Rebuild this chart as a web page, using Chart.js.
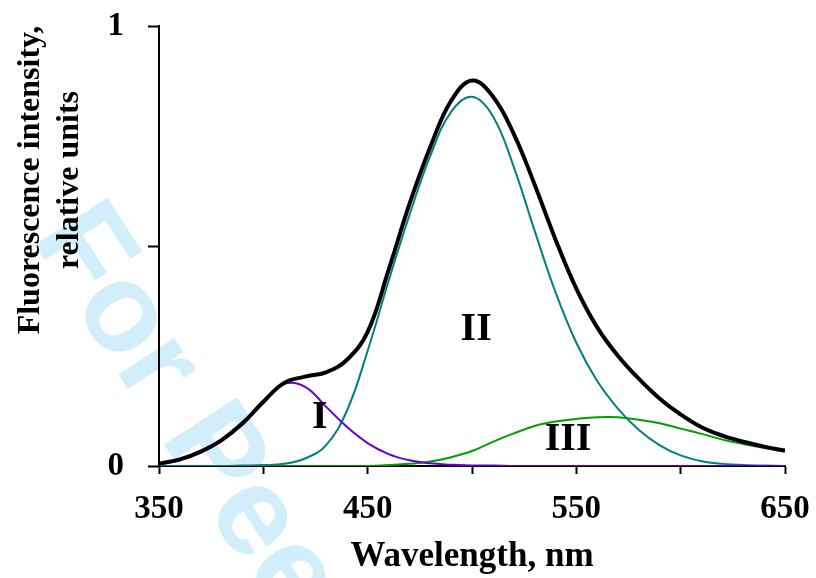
<!DOCTYPE html>
<html>
<head>
<meta charset="utf-8">
<script src="https://cdn.jsdelivr.net/npm/chart.js@4.4.0/dist/chart.umd.min.js"></script>
<style>
  html, body { margin: 0; padding: 0; background: #fff; }
  #wrap { width: 816px; height: 578px; }
</style>
</head>
<body>
<div id="wrap"><canvas id="spectrum" width="816" height="578"></canvas></div>
<script>
// fluorescence spectrum and its three gaussian bands

const wavelengths = [350, 360, 370, 380, 390, 400, 410, 420, 430, 440, 450,
    460, 470, 480, 490, 500, 510, 520, 530, 540, 550,
    560, 570, 580, 590, 600, 610, 620, 630, 640, 650];

const totalSpectrum = [0.005, 0.015, 0.033, 0.059, 0.097, 0.146, 0.189, 0.203, 0.213, 0.241, 0.305,
    0.445, 0.595, 0.725, 0.830, 0.876, 0.840, 0.755, 0.640, 0.515, 0.403,
    0.315, 0.250, 0.198, 0.153, 0.117, 0.088, 0.069, 0.055, 0.044, 0.035];

const band1 = [0.004, 0.013, 0.030, 0.057, 0.094, 0.143, 0.186, 0.180, 0.135, 0.089, 0.052,
    0.027, 0.013, 0.006, 0.003, 0.001, 0.001, 0, 0, 0, 0,
    0, 0, 0, 0, 0, 0, 0, 0, 0, 0];

const band2 = [0, 0, 0, 0, 0.001, 0.002, 0.005, 0.017, 0.047, 0.125, 0.262,
    0.420, 0.570, 0.705, 0.805, 0.839, 0.795, 0.680, 0.535, 0.395, 0.280,
    0.193, 0.130, 0.082, 0.047, 0.024, 0.011, 0.005, 0.002, 0.001, 0];

const band3 = [0, 0, 0, 0, 0, 0, 0, 0, 0, 0, 0,
    0.002, 0.005, 0.010, 0.020, 0.034, 0.055, 0.074, 0.091, 0.101, 0.107,
    0.111, 0.111, 0.105, 0.097, 0.085, 0.073, 0.060, 0.050, 0.041, 0.033];

const xTickLabels = ['350', '450', '550', '650'];
const yTickLabels = ['0', '1'];
const bandNames = ['I', 'II', 'III'];
// where each band name sits, in data units (wavelength, intensity)
const bandLabelSpots = [[427, 0.11], [502, 0.31], [546, 0.06]];

const SERIF = '"Liberation Serif", "Times New Roman", serif';

function toPoints(values) {
    return wavelengths.map((w, i) => ({ x: w, y: values[i] }));
}

// faint "For Peer Review" stamp behind the plot
const watermark = {
    id: 'watermark',
    beforeDraw(chart) {
        const ctx = chart.ctx;
        ctx.save();
        ctx.translate(30, 238);
        ctx.rotate(57 * Math.PI / 180);
        ctx.font = 'bold 126px "Liberation Sans", Arial, sans-serif';
        ctx.fillStyle = '#d3eefb';
        ctx.textBaseline = 'alphabetic';
        ctx.fillText('For Peer Review', 0, 0);
        ctx.restore();
    }
};

// y title sits higher than the axis middle, so it is drawn by hand
const yTitle = {
    id: 'yTitle',
    afterDraw(chart) {
        const ctx = chart.ctx;
        ctx.save();
        ctx.font = 'bold 32px ' + SERIF;
        ctx.fillStyle = '#000';
        ctx.textAlign = 'center';
        ctx.textBaseline = 'middle';
        ctx.translate(0, 180);
        ctx.rotate(-Math.PI / 2);
        ctx.fillText('Fluorescence intensity,', 0, 31);
        ctx.fillText('relative units', 0, 70);
        ctx.restore();
    }
};

const bandLabels = {
    id: 'bandLabels',
    afterDatasetsDraw(chart) {
        const { ctx, scales } = chart;
        ctx.save();
        ctx.font = 'bold 40px ' + SERIF;
        ctx.fillStyle = '#000';
        ctx.textAlign = 'center';
        ctx.textBaseline = 'middle';
        bandNames.forEach((name, i) => {
            const [wx, wy] = bandLabelSpots[i];
            ctx.fillText(name, scales.x.getPixelForValue(wx), scales.y.getPixelForValue(wy));
        });
        ctx.restore();
    }
};

window.addEventListener('DOMContentLoaded', () => {
    const ctx = document.getElementById('spectrum').getContext('2d');
    new Chart(ctx, {
        type: 'line',
        data: {
            datasets: [
                { label: 'total', data: toPoints(totalSpectrum), borderColor: '#000000', borderWidth: 4 },
                { label: 'I', data: toPoints(band1), borderColor: '#6600cc', borderWidth: 2 },
                { label: 'II', data: toPoints(band2), borderColor: '#008080', borderWidth: 2 },
                { label: 'III', data: toPoints(band3), borderColor: '#00a000', borderWidth: 2 }
            ]
        },
        options: {
            responsive: false,
            devicePixelRatio: 1,
            animation: false,
            layout: { padding: { top: 26, right: 31, left: 0, bottom: 0 } },
            elements: {
                point: { radius: 0 },
                line: { tension: 0.4, fill: false }
            },
            plugins: { legend: { display: false }, tooltip: { enabled: false } },
            scales: {
                x: {
                    type: 'linear',
                    min: 350, max: 650,
                    border: { color: '#000', width: 2 },
                    grid: { drawOnChartArea: false, drawTicks: true, tickLength: 8, tickColor: '#000', tickWidth: 2 },
                    ticks: {
                        stepSize: 50, autoSkip: false, maxRotation: 0, padding: 16,
                        color: '#000', font: { family: SERIF, size: 33, weight: 'bold' },
                        callback: v => xTickLabels.includes(String(v)) ? String(v) : ''
                    },
                    title: {
                        display: true, text: 'Wavelength, nm', color: '#000',
                        font: { family: SERIF, size: 35, weight: 'bold' },
                        padding: { top: 0, bottom: 0 }
                    },
                    // fixed box, and no extra room for the outer labels
                    afterFit: s => { s.height = 112; s.paddingLeft = 0; s.paddingRight = 0; }
                },
                y: {
                    min: 0, max: 1,
                    border: { color: '#000', width: 2 },
                    grid: { drawOnChartArea: false, drawTicks: true, tickLength: 11, tickColor: '#000', tickWidth: 2 },
                    ticks: {
                        stepSize: 0.5, padding: 24,
                        color: '#000', font: { family: SERIF, size: 33, weight: 'bold' },
                        callback: v => yTickLabels.includes(String(v)) ? String(v) : ''
                    },
                    afterFit: s => { s.width = 159; s.paddingTop = 0; s.paddingBottom = 0; }
                }
            }
        },
        plugins: [watermark, yTitle, bandLabels]
    });
});
</script>
</body>
</html>
